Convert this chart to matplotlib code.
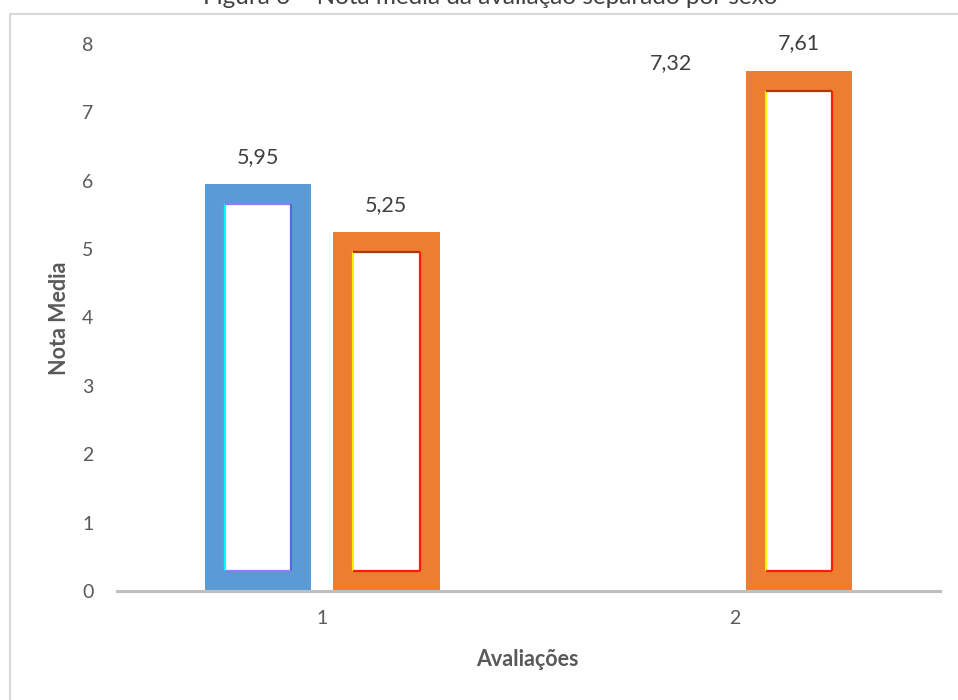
import matplotlib.pyplot as plt
from matplotlib.patches import Rectangle

# dados: nota media por avaliacao e por sexo
avaliacoes = ['1', '2']
nota_azul = [5.95, 7.32]
nota_laranja = [5.25, 7.61]
azul_visivel = [True, False]

cor_azul = '#5B9BD5'
cor_laranja = '#ED7D31'
cor_texto = '#595959'
fonte = 'Lato'

# cores dos filetes internos de cada moldura (esq, topo, dir, base)
filete_azul = ['#00FFFF', '#8A7CFF', '#4A6FE3', '#8A7CFF']
filete_laranja = ['#FFF200', '#A8380E', '#FF1A00', '#FF1A00']

plt.rcParams['font.family'] = fonte

fig = plt.figure(figsize=(9.58, 7), dpi=100)
ax = fig.add_axes([117 / 958, 109 / 700, 823 / 958, 547 / 700])

largura = 0.259
desloc = 0.155
borda_x = 20 / 413
borda_y = 20 / 68.4


def moldura(x, valor, cor, filetes, visivel):
    cor_barra = cor if visivel else 'none'
    ax.bar(x, valor, width=largura, color=cor_barra, linewidth=0, zorder=2)
    x0 = x - largura / 2 + borda_x
    x1 = x + largura / 2 - borda_x
    y0 = borda_y
    y1 = valor - borda_y
    if visivel:
        ax.bar(x, y1 - y0, bottom=y0, width=x1 - x0, color='white',
               linewidth=0, zorder=3)
        lados = [([x0, x0], [y0, y1]), ([x0, x1], [y1, y1]),
                 ([x1, x1], [y0, y1]), ([x0, x1], [y0, y0])]
        for (xs, ys), c in zip(lados, filetes):
            ax.plot(xs, ys, color=c, lw=1.6, zorder=4,
                    solid_capstyle='butt')
    rotulo = f'{valor:.2f}'.replace('.', ',')
    ax.annotate(rotulo, (x, valor), xytext=(0, 19.5),
                textcoords='offset points', ha='center', va='center',
                fontsize=15.5, color='#404040')


for i, cat in enumerate(avaliacoes):
    pos = i + 1
    moldura(pos - desloc, nota_azul[i], cor_azul, filete_azul, azul_visivel[i])
    moldura(pos + desloc, nota_laranja[i], cor_laranja, filete_laranja, True)

ax.set_xlim(0.5036, 2.4964)
ax.set_ylim(0, 8)
ax.set_yticks(range(0, 9))
ax.set_xticks([1, 2])
ax.set_xticklabels(avaliacoes)
ax.tick_params(axis='both', length=0, labelsize=14, labelcolor=cor_texto)
ax.tick_params(axis='y', pad=17)
ax.tick_params(axis='x', pad=14)

for lado in ['top', 'right', 'left']:
    ax.spines[lado].set_visible(False)
ax.spines['bottom'].set_color('#BFBFBF')
ax.spines['bottom'].set_linewidth(2.2)
ax.spines['bottom'].set_zorder(5)

fig.text(60 / 958, 1 - 318 / 700, 'Nota Media', rotation=90, ha='center',
         va='center', fontsize=15.5, fontweight='bold', color=cor_texto)
fig.text(527 / 958, 1 - 660 / 700, 'Avaliações', ha='center', va='center',
         fontsize=15.5, fontweight='bold', color=cor_texto)

# titulo parcialmente fora da area da figura
fig.text(490 / 958, 1 - 3.5 / 700,
         'Figura 6 – Nota média da avaliação separado por sexo',
         ha='center', va='baseline', fontsize=17.5, color='#404040')

# moldura da area do grafico
fig.patches.append(Rectangle((10 / 958, -0.05), 1.0, 1 - 13.5 / 700 + 0.05,
                             transform=fig.transFigure, fill=False,
                             edgecolor='#D9D9D9', linewidth=1.5))

fig.savefig('out.png', dpi=100)
